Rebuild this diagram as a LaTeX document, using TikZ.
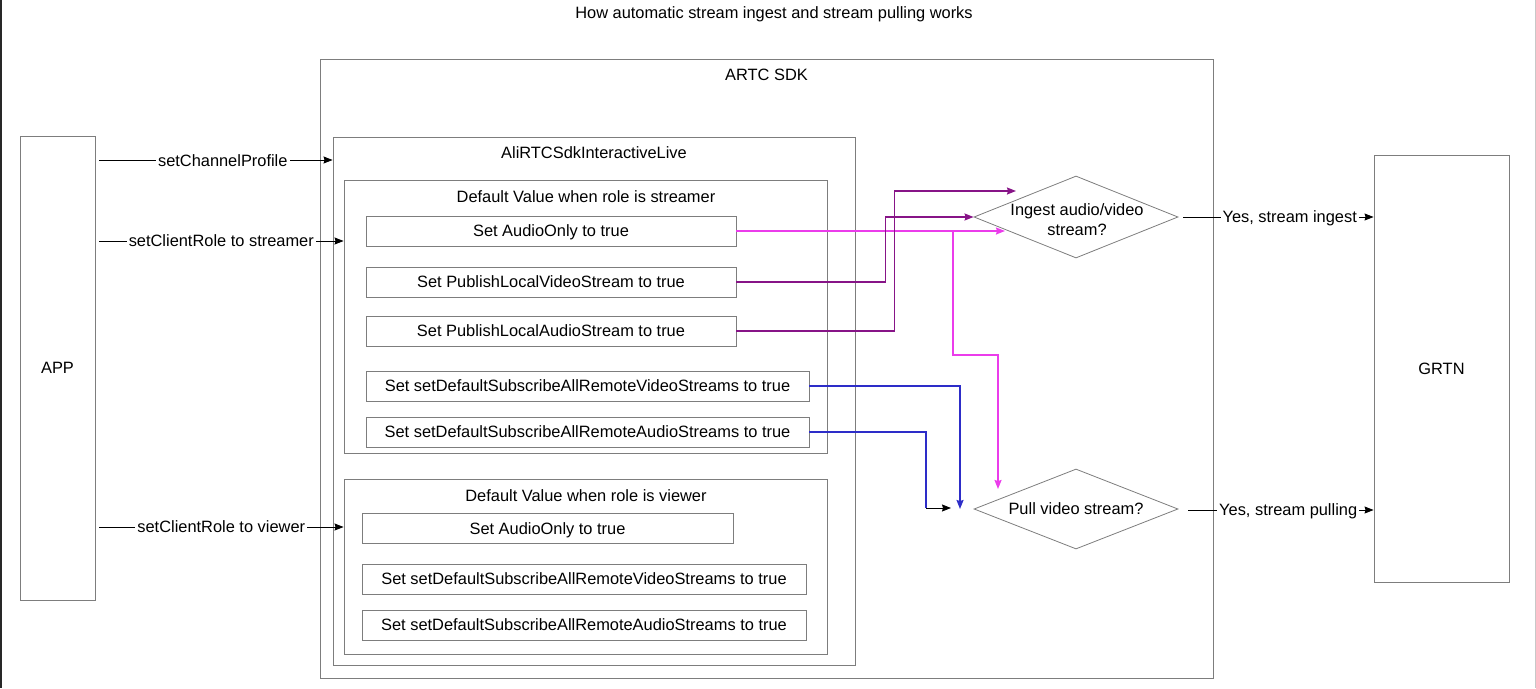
\documentclass[tikz,border=0pt]{standalone}
\usepackage{fontspec}
\setmainfont{Liberation Sans}
\usetikzlibrary{shapes.geometric,arrows.meta,calc}
\definecolor{boxgray}{RGB}{125,125,125}
\definecolor{pinkc}{RGB}{235,60,235}
\definecolor{purpc}{RGB}{135,20,135}
\definecolor{bluec}{RGB}{45,45,200}
\definecolor{edgedark}{RGB}{40,40,40}
\definecolor{edgelight}{RGB}{200,200,200}
\begin{document}
\begin{tikzpicture}[x=1pt,y=-1pt,
  every node/.style={font=\fontsize{16.4}{20}\selectfont,text height=11.8pt,text depth=0pt},
  box/.style={draw=boxgray,line width=0.9pt,rectangle,inner sep=0pt},
  dia/.style={draw=boxgray,line width=0.8pt,diamond,inner sep=0pt},
  lbl/.style={fill=white,inner sep=2pt},
  arr/.style={line width=0.9pt,-{Stealth[length=9pt,width=7pt,inset=1pt]}},
  carr/.style={line width=1.4pt,-{Stealth[length=9pt,width=7pt,inset=1pt]}},
  conn/.style={line width=1.4pt}
]
\useasboundingbox (0,0) rectangle (1536,688);
\draw[edgedark,line width=2.2pt] (1,0) -- (1,688);
\draw[edgelight,line width=1pt] (1535,0) -- (1535,688);

\node (title) at (774,13) {How automatic stream ingest and stream pulling works};

% containers
\node[box,minimum width=75,minimum height=464] (app) at (57.5,368) {APP};
\node[box,minimum width=893,minimum height=619] (artc) at (766.5,368.5) {};
\node (artct) at (766.5,75) {ARTC SDK};
\node[box,minimum width=522,minimum height=528] (ali) at (594,401) {};
\node (alit) at (594,153) {AliRTCSdkInteractiveLive};
\node[box,minimum width=483,minimum height=273] (str) at (585.5,316.5) {};
\node (strt) at (586,197) {Default Value when role is streamer};
\node[box,minimum width=483,minimum height=175] (vie) at (585.5,566.5) {};
\node (viet) at (586,496) {Default Value when role is viewer};
\node[box,minimum width=135,minimum height=427] (grtn) at (1441.5,368.5) {GRTN};

% streamer items
\node[box,minimum width=370,minimum height=30] (s1) at (551,231) {Set AudioOnly to true};
\node[box,minimum width=370,minimum height=30] (s2) at (551,282) {Set PublishLocalVideoStream to true};
\node[box,minimum width=370,minimum height=30] (s3) at (551,331) {Set PublishLocalAudioStream to true};
\node[box,minimum width=443,minimum height=30] (s4) at (587.5,386) {Set setDefaultSubscribeAllRemoteVideoStreams to true};
\node[box,minimum width=443,minimum height=30] (s5) at (587.5,432) {Set setDefaultSubscribeAllRemoteAudioStreams to true};

% viewer items
\node[box,minimum width=371,minimum height=30] (v1) at (547.5,528.5) {Set AudioOnly to true};
\node[box,minimum width=444,minimum height=30] (v2) at (584,579) {Set setDefaultSubscribeAllRemoteVideoStreams to true};
\node[box,minimum width=444,minimum height=30] (v3) at (584,625) {Set setDefaultSubscribeAllRemoteAudioStreams to true};

% decisions
\node[dia,minimum width=204,minimum height=82] (d1) at (1076,217) {};
\node[align=center,text height={},text depth={}] (d1t) at (1077,220) {Ingest audio/video\\stream?};
\node[dia,minimum width=204,minimum height=80] (d2) at (1076,509) {};
\node (d2t) at (1076,509) {Pull video stream?};

% left connectors
\coordinate (c1) at (99,160);
\coordinate (c2) at (99,241);
\coordinate (c3) at (99,527);
\draw[arr] (c1) -- (ali.west |- c1) node[lbl,pos=0.53,yshift=-1] {setChannelProfile};
\draw[arr] (c2) -- (str.west |- c2) node[lbl,midway] {setClientRole to streamer};
\draw[arr] (c3) -- (vie.west |- c3) node[lbl,midway] {setClientRole to viewer};

% right connectors
\coordinate (r1) at (1183,217);
\coordinate (r2) at (1188,510);
\draw[arr] (r1) -- (grtn.west |- r1) node[lbl,pos=0.56] {Yes, stream ingest};
\draw[arr] (r2) -- (grtn.west |- r2) node[lbl,pos=0.54] {Yes, stream pulling};

% pink
\coordinate (pk1) at (1005,231);
\coordinate (pkb) at (953,231);
\coordinate (pk2) at (998,489);
\draw[carr,pinkc] (s1.east) -- (pk1);
\draw[carr,pinkc] (pkb) -- (953,355) -| (pk2);

% purple
\coordinate (pu2) at (1016,191);
\draw[carr,purpc] (s2.east) -- ++(149,0) |- (d1.west);
\draw[carr,purpc] (s3.east) -- ++(158,0) |- (pu2);

% blue
\coordinate (bl1) at (960,509);
\coordinate (bj) at (926,508);
\coordinate (bk) at (951,508);
\draw[carr,bluec] (s4.east) -| (bl1);
\draw[conn,bluec] (s5.east) -| (bj);
\draw[arr] (bj) -- (bk);
\end{tikzpicture}
\end{document}
